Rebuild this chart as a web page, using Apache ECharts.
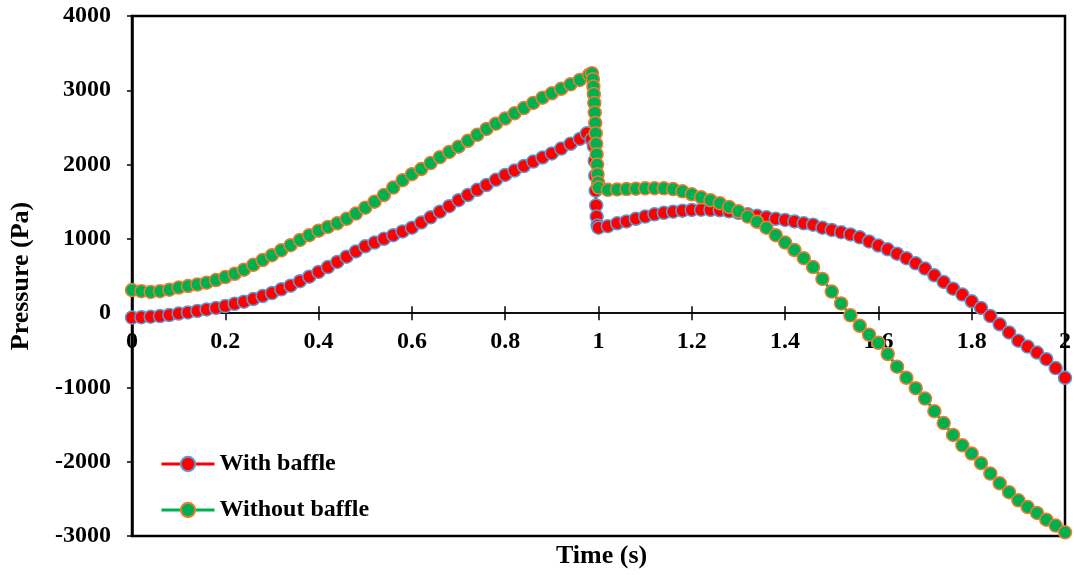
<!DOCTYPE html>
<html>
<head>
<meta charset="utf-8">
<script src="https://cdn.jsdelivr.net/npm/echarts@6/dist/echarts.min.js"></script>
<style>
  html, body { margin: 0; padding: 0; background: #fff; }
  #main { width: 1074px; height: 575px; }
</style>
</head>
<body>
<div id="main"></div>
<script>
// time (s) and pressure (Pa)
var timeWith = [
  0, 0.02, 0.04, 0.06, 0.08, 0.1, 0.12, 0.14, 0.16, 0.18,
  0.2, 0.22, 0.24, 0.26, 0.28, 0.3, 0.32, 0.34, 0.36, 0.38,
  0.4, 0.42, 0.44, 0.46, 0.48, 0.5, 0.52, 0.54, 0.56, 0.58,
  0.6, 0.62, 0.64, 0.66, 0.68, 0.7, 0.72, 0.74, 0.76, 0.78,
  0.8, 0.82, 0.84, 0.86, 0.88, 0.9, 0.92, 0.94, 0.96, 0.975,
  0.985, 0.99, 0.992, 0.993, 0.994, 0.995, 0.996, 0.998,
  1, 1.02, 1.04, 1.06, 1.08, 1.1, 1.12, 1.14, 1.16, 1.18,
  1.2, 1.22, 1.24, 1.26, 1.28, 1.3, 1.32, 1.34, 1.36, 1.38,
  1.4, 1.42, 1.44, 1.46, 1.48, 1.5, 1.52, 1.54, 1.56, 1.58,
  1.6, 1.62, 1.64, 1.66, 1.68, 1.7, 1.72, 1.74, 1.76, 1.78,
  1.8, 1.82, 1.84, 1.86, 1.88, 1.9, 1.92, 1.94, 1.96, 1.98, 2
];
var pressureWith = [
  -60, -55, -48, -40, -25, -5, 10, 30, 50, 70,
  95, 125, 155, 190, 230, 270, 320, 370, 430, 490,
  555, 620, 690, 760, 830, 900, 950, 1000, 1050, 1100,
  1150, 1220, 1290, 1365, 1440, 1520, 1590, 1660, 1725, 1795,
  1860, 1920, 1980, 2040, 2095, 2150, 2215, 2280, 2345, 2420,
  2340, 2250, 2050, 1850, 1650, 1450, 1300, 1180,
  1150, 1170, 1210, 1235, 1270, 1300, 1330, 1350, 1365, 1380,
  1390, 1392, 1390, 1385, 1370, 1350, 1330, 1310, 1290, 1270,
  1255, 1235, 1210, 1190, 1150, 1120, 1090, 1060, 1020, 965,
  910, 860, 800, 740, 670, 600, 510, 420, 330, 250,
  160, 70, -40, -150, -260, -370, -450, -530, -620, -740, -870
];
var timeWithout = [
  0, 0.02, 0.04, 0.06, 0.08, 0.1, 0.12, 0.14, 0.16, 0.18,
  0.2, 0.22, 0.24, 0.26, 0.28, 0.3, 0.32, 0.34, 0.36, 0.38,
  0.4, 0.42, 0.44, 0.46, 0.48, 0.5, 0.52, 0.54, 0.56, 0.58,
  0.6, 0.62, 0.64, 0.66, 0.68, 0.7, 0.72, 0.74, 0.76, 0.78,
  0.8, 0.82, 0.84, 0.86, 0.88, 0.9, 0.92, 0.94, 0.96, 0.98,
  0.986, 0.988, 0.989, 0.99, 0.991, 0.992, 0.993, 0.994, 0.995, 0.996,
  0.997, 0.998, 0.999,
  1, 1.02, 1.04, 1.06, 1.08, 1.1, 1.12, 1.14, 1.16, 1.18,
  1.2, 1.22, 1.24, 1.26, 1.28, 1.3, 1.32, 1.34, 1.36, 1.38,
  1.4, 1.42, 1.44, 1.46, 1.48, 1.5, 1.52, 1.54, 1.56, 1.58,
  1.6, 1.62, 1.64, 1.66, 1.68, 1.7, 1.72, 1.74, 1.76, 1.78,
  1.8, 1.82, 1.84, 1.86, 1.88, 1.9, 1.92, 1.94, 1.96, 1.98, 2
];
var pressureWithout = [
  310, 295, 285, 295, 315, 345, 365, 385, 410, 445,
  485, 530, 585, 650, 715, 780, 845, 915, 985, 1050,
  1110, 1160, 1210, 1270, 1340, 1420, 1500, 1590, 1690, 1790,
  1870, 1940, 2020, 2100, 2170, 2240, 2320, 2400, 2480, 2550,
  2620, 2690, 2760, 2830, 2900, 2960, 3020, 3080, 3140, 3210,
  3230, 3150, 3050, 2950, 2830, 2700, 2560, 2420, 2280, 2140,
  2000, 1870, 1760,
  1690, 1660, 1665, 1670, 1675, 1680, 1682, 1680, 1670, 1640,
  1600, 1560, 1520, 1480, 1430, 1370, 1300, 1230, 1150, 1050,
  950, 850, 740, 620, 460, 290, 130, -30, -170, -290,
  -400, -550, -720, -870, -1010, -1150, -1320, -1480, -1640, -1780,
  -1890, -2020, -2160, -2290, -2410, -2520, -2610, -2690, -2780, -2860, -2950
];
var seriesNames = ['With baffle', 'Without baffle'];

var yMin = -3000, yMax = 4000;
var font = 'Liberation Serif, Times New Roman, serif';
function pairs(t, p) {
  return t.map(function (x, i) { return [x, p[i]]; });
}

var gridTop = 16, gridBottom = 39;
var plotH = 575 - gridTop - gridBottom;
// put the time axis on P = 0 (offset from the bottom / top edge of the grid)
var offBottom = -plotH * (0 - yMin) / (yMax - yMin);
var offTop = -plotH * (yMax - 0) / (yMax - yMin);

var myChart = echarts.init(document.getElementById('main'));
var option = {
  animation: false,
  backgroundColor: '#fff',
  grid: {
    left: 131, right: 3, top: gridTop, bottom: gridBottom,
    show: true, borderColor: '#000', borderWidth: 2.5, backgroundColor: 'transparent'
  },
  legend: {
    orient: 'vertical',
    left: 155, top: 447,
    itemWidth: 53, itemHeight: 18, itemGap: 22,
    lineStyle: { width: 3 },
    textStyle: { fontFamily: font, fontWeight: 'bold', fontSize: 24, color: '#000' },
    data: seriesNames
  },
  graphic: [{
    type: 'text', left: 556, top: 543,
    style: { text: 'Time (s)', font: 'bold 26px ' + font, fill: '#000' }
  }],
  xAxis: [{
    type: 'value', min: 0, max: 2, interval: 0.2,
    position: 'bottom', offset: offBottom,
    axisLine: { onZero: false, lineStyle: { color: '#000', width: 1.5 } },
    axisTick: { length: 7, lineStyle: { color: '#000', width: 1.5 } },
    axisLabel: { margin: 17, fontFamily: font, fontWeight: 'bold', fontSize: 24, color: '#000' },
    splitLine: { show: false }
  }, {
    type: 'value', min: 0, max: 2, interval: 0.2,
    position: 'top', offset: offTop,
    axisLine: { onZero: false, lineStyle: { color: '#000', width: 1.5 } },
    axisTick: { length: 7, lineStyle: { color: '#000', width: 1.5 } },
    axisLabel: { show: false },
    splitLine: { show: false }
  }],
  yAxis: {
    type: 'value', min: yMin, max: yMax, interval: 1000,
    name: 'Pressure (Pa)', nameLocation: 'middle', nameGap: 98,
    nameTextStyle: { fontFamily: font, fontWeight: 'bold', fontSize: 26, color: '#000' },
    axisLine: { show: true, lineStyle: { color: '#000', width: 2.5 } },
    axisTick: { show: true, length: 5, lineStyle: { color: '#000', width: 1.5 } },
    axisLabel: {
      margin: 21, fontFamily: font, fontWeight: 'bold', fontSize: 24, color: '#000',
      formatter: function (v) { return String(v); }
    },
    splitLine: { show: false }
  },
  series: [{
    name: seriesNames[0],
    type: 'line',
    xAxisIndex: 0,
    data: pairs(timeWith, pressureWith),
    symbol: 'circle', symbolSize: 13,
    lineStyle: { color: '#ff0000', width: 3 },
    itemStyle: { color: '#ff0000', borderColor: '#5b9bd5', borderWidth: 1.5 }
  }, {
    name: seriesNames[1],
    type: 'line',
    xAxisIndex: 0,
    data: pairs(timeWithout, pressureWithout),
    symbol: 'circle', symbolSize: 13,
    lineStyle: { color: '#00b050', width: 3 },
    itemStyle: { color: '#00b050', borderColor: '#ed7d31', borderWidth: 1.5 }
  }]
};
myChart.setOption(option);
</script>
</body>
</html>
